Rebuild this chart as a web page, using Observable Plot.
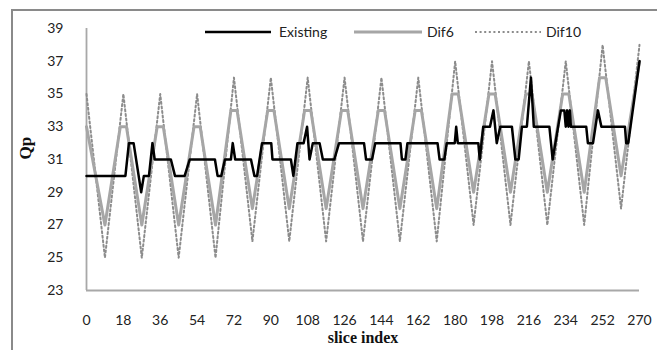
<!DOCTYPE html>
<html>
<head>
<meta charset="utf-8">
<script src="https://cdn.jsdelivr.net/npm/d3@7"></script>
<script src="https://cdn.jsdelivr.net/npm/@observablehq/plot@0.6"></script>
<style>
  body { margin: 0; background: #fff; }
  #wrap { position: relative; width: 657px; height: 350px; overflow: hidden; }
  #frame { position: absolute; left: 11px; top: 9px; width: 700px; height: 400px;
           border-left: 2px solid #8a8a8a; border-top: 2px solid #8a8a8a; }
  #chart { position: absolute; left: 0; top: 0; }
  .lg { position: absolute; font-family: Lato, "Open Sans", sans-serif; font-size: 14px; color: #222; line-height: 16px; }
  .lgline { position: absolute; }
</style>
</head>
<body>
<div id="wrap">
  <div id="frame"></div>
  <div id="chart"></div>
  <svg class="lgline" style="left:205px;top:28px" width="66" height="8"><line x1="0" y1="4" x2="66" y2="4" stroke="#000" stroke-width="2.5"/></svg>
  <div class="lg" style="left:279px;top:24px">Existing</div>
  <svg class="lgline" style="left:354px;top:28px" width="68" height="8"><line x1="0" y1="4" x2="68" y2="4" stroke="#a6a6a6" stroke-width="3"/></svg>
  <div class="lg" style="left:427px;top:24px">Dif6</div>
  <svg class="lgline" style="left:475px;top:28px" width="66" height="8"><line x1="0" y1="4" x2="66" y2="4" stroke="#8c8c8c" stroke-width="2" stroke-dasharray="2 2.6"/></svg>
  <div class="lg" style="left:546px;top:24px">Dif10</div>
</div>
<script>
const xTicks = [0, 18, 36, 54, 72, 90, 108, 126, 144, 162, 180, 198, 216, 234, 252, 270];
const yTicks = [23, 25, 27, 29, 31, 33, 35, 37, 39];

const existingX = [0, 19, 20.7, 23, 26.7, 28, 30.5, 32.2, 33.3, 41.2, 43.2, 47.9, 50.4, 62.7, 64, 65.8, 67.6, 70.5, 71.4, 72.6, 80.3, 82, 83.3, 85.7, 90.2, 90.8, 99.8, 101, 103, 106, 107.7, 108.9, 110.5, 113.8, 115.4, 121, 123.3, 135.5, 136.5, 139.4, 141, 153.3, 154, 155.7, 156.7, 171.4, 172.4, 174.7, 175.9, 179.8, 180.5, 181.3, 191.3, 192, 193.7, 197, 198.7, 200.3, 202, 207.7, 209.4, 211, 212.6, 215, 217, 218.4, 226, 227.6, 231.6, 233.3, 234, 234.7, 235.3, 236, 236.5, 244, 244.8, 247.3, 249.7, 251.4, 262.9, 263.5, 264.5, 270];
const existingY = [30, 30, 32, 32, 29, 30, 30, 32, 31, 31, 30, 30, 31, 31, 30, 30, 31, 31, 32, 31, 31, 30, 30, 32, 32, 31, 31, 30, 32, 32, 33, 31, 32, 32, 31, 31, 32, 32, 31, 31, 32, 32, 31, 31, 32, 32, 31, 31, 32, 32, 33, 32, 32, 31, 33, 33, 34, 32, 33, 33, 31, 31, 33, 33, 36, 33, 33, 31, 34, 34, 33, 34, 33, 34, 33, 33, 32, 32, 34, 33, 33, 32, 32, 37];

const dif6X = [0, 9, 16.5, 19.5, 27, 34.5, 37.5, 45, 52.5, 55.5, 63, 70.5, 73.5, 81, 88.5, 91.5, 99, 106.5, 109.5, 117, 124.5, 127.5, 135, 142.5, 145.5, 153, 160.5, 163.5, 171, 178.5, 181.5, 189, 196.5, 199.5, 207, 214.5, 217.5, 225, 232.5, 235.5, 243, 250.5, 253.5, 261, 270];
const dif6Y = [33, 27, 33, 33, 27, 33, 33, 27, 33, 33, 27, 34, 34, 28, 34, 34, 28, 34, 34, 28, 34, 34, 28, 34, 34, 28, 34, 34, 28, 35, 35, 29, 35, 35, 29, 35, 35, 29, 35, 35, 29, 36, 36, 30, 37];

const dif10X = [0, 9, 18, 27, 36, 45, 54, 63, 72, 81, 90, 99, 108, 117, 126, 135, 144, 153, 162, 171, 180, 189, 198, 207, 216, 225, 234, 243, 252, 261, 270];
const dif10Y = [35, 25, 35, 25, 35, 25, 35, 25, 36, 26, 36, 26, 36, 26, 36, 26, 36, 26, 36, 26, 37, 27, 37, 27, 37, 27, 37, 27, 38, 28, 38];

const toRows = (xs, ys) => xs.map((x, i) => ({x, y: ys[i]}));
const existing = toRows(existingX, existingY);
const dif6 = toRows(dif6X, dif6Y);
const dif10 = toRows(dif10X, dif10Y);

const chart = Plot.plot({
  width: 657,
  height: 350,
  marginLeft: 86,
  marginRight: 18,
  marginTop: 28,
  marginBottom: 60,
  x: {domain: [0, 270]},
  y: {domain: [23, 39]},
  style: {fontFamily: "Lato, 'Open Sans', sans-serif", fontSize: "14px", color: "#222", background: "transparent", overflow: "visible"},
  marks: [
    Plot.axisY({ticks: yTicks, tickSize: 0, tickPadding: 23, label: null, fontSize: 14}),
    Plot.axisX({ticks: xTicks, tickSize: 0, tickPadding: 25, label: null, fontSize: 14}),
    Plot.ruleX([0], {stroke: "#a8a8a8", strokeWidth: 1.8}),
    Plot.ruleY([23], {stroke: "#a8a8a8", strokeWidth: 1.8}),
    Plot.line(dif10, {x: "x", y: "y", stroke: "#8c8c8c", strokeWidth: 2, strokeDasharray: "2 2.6"}),
    Plot.line(dif6, {x: "x", y: "y", stroke: "#a6a6a6", strokeWidth: 3}),
    Plot.line(existing, {x: "x", y: "y", stroke: "#000", strokeWidth: 2.5}),
    Plot.text(["Qp"], {text: d => d, frameAnchor: "left", dx: -61, rotate: -90, fontFamily: "'Liberation Serif', serif", fontWeight: "bold", fontSize: 17, fill: "#111"}),
    Plot.text(["slice index"], {text: d => d, frameAnchor: "bottom", dy: 52, fontFamily: "'Liberation Serif', serif", fontWeight: "bold", fontSize: 16, fill: "#111"})
  ]
});
document.getElementById("chart").appendChild(chart);
</script>
</body>
</html>
